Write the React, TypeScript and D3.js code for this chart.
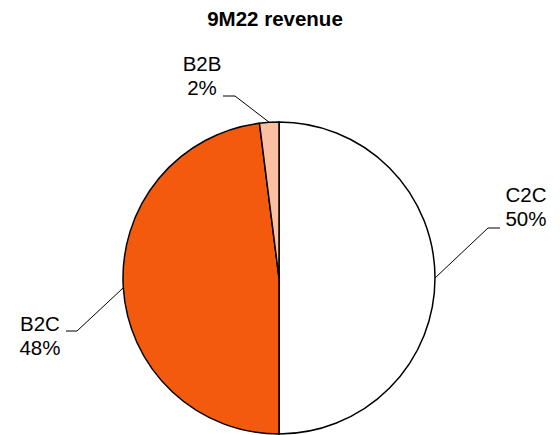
import React from "react";
import * as d3 from "d3";

const categories = ["C2C", "B2C", "B2B"];
const values = [50, 48, 2];
const colors = ["#FFFFFF", "#F45A0E", "#FBBFA2"];
const title = "9M22 revenue";

const W = 560, H = 435;
const cx = 279, cy = 278, R = 156;

const labelPos: Record<string, { tx: number; ty: number; anchor: string; elbow: [number, number]; end: [number, number] }> = {
  C2C: { tx: 526, ty: 202, anchor: "middle", elbow: [488, 228], end: [500, 228] },
  B2C: { tx: 40, ty: 331, anchor: "middle", elbow: [77, 331], end: [66, 331] },
  B2B: { tx: 202, ty: 71, anchor: "middle", elbow: [235, 96], end: [223, 96] },
};

export default function App() {
  const pie = d3.pie<number>().sort(null).value((d) => d);
  const arcs = pie(values);
  const arc = d3.arc<d3.PieArcDatum<number>>().innerRadius(0).outerRadius(R);
  return (
    <svg width={W} height={H} style={{ position: "absolute", left: 0, top: 0 }}>
      <rect width={W} height={H} fill="#fff" />
      <text x={275} y={26} textAnchor="middle" fontFamily="Liberation Sans, Arial, sans-serif" fontWeight="bold" fontSize={20.5}>
        {title}
      </text>
      <g transform={`translate(${cx},${cy})`}>
        {arcs.map((a, i) => (
          <path key={i} d={arc(a) || ""} fill={colors[i]} stroke="#000" strokeWidth={1.5} />
        ))}
      </g>
      {arcs.map((a, i) => {
        const name = categories[i];
        const lp = labelPos[name];
        const mid = (a.startAngle + a.endAngle) / 2;
        const sx = cx + Math.sin(mid) * R, sy = cy - Math.cos(mid) * R;
        return (
          <g key={name}>
            <polyline
              points={`${sx},${sy} ${lp.elbow[0]},${lp.elbow[1]} ${lp.end[0]},${lp.end[1]}`}
              fill="none"
              stroke="#000"
              strokeWidth={1}
            />
            <text x={lp.tx} y={lp.ty} textAnchor={lp.anchor} fontFamily="Liberation Sans, Arial, sans-serif" fontSize={20.5}>
              <tspan x={lp.tx}>{name}</tspan>
              <tspan x={lp.tx} dy={24}>{values[i]}%</tspan>
            </text>
          </g>
        );
      })}
    </svg>
  );
}
